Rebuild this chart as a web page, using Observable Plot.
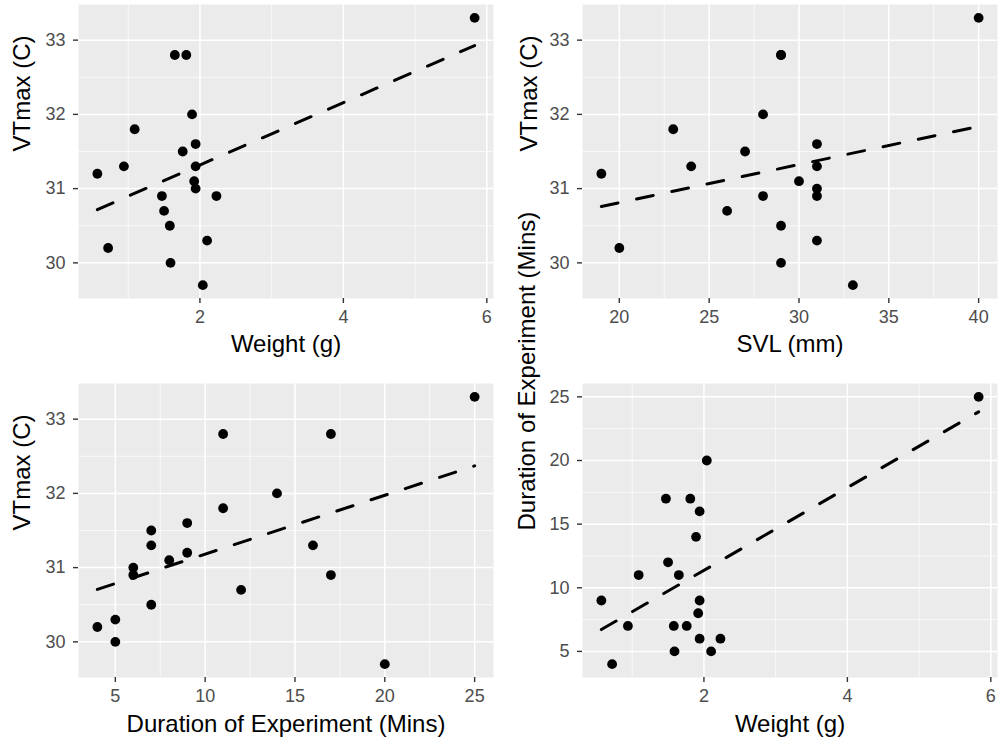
<!DOCTYPE html>
<html>
<head>
<meta charset="utf-8">
<script src="https://cdn.jsdelivr.net/npm/d3@7"></script>
<script src="https://cdn.jsdelivr.net/npm/@observablehq/plot@0.6"></script>
<style>
  html, body { margin: 0; padding: 0; background: #ffffff; }
  #wrap { position: relative; width: 999px; height: 744px; overflow: hidden; background: #ffffff; }
  .panel { position: absolute; }
</style>
</head>
<body>
<div id="wrap">
  <div class="panel" id="p1" style="left:0px; top:0px;"></div>
  <div class="panel" id="p2" style="left:500px; top:0px;"></div>
  <div class="panel" id="p3" style="left:0px; top:370px;"></div>
  <div class="panel" id="p4" style="left:500px; top:370px;"></div>
</div>
<script>
// ---- Data (one entry per individual) ----
const weight   = [5.83, 1.65, 1.81, 1.89, 1.09, 1.94, 1.76, 0.94, 1.94, 0.57, 1.92, 1.94, 1.47, 2.23, 1.50, 1.58, 0.72, 2.10, 1.59, 2.04];
const svl      = [40, 29, 29, 28, 23, 31, 27, 24, 31, 19, 30, 31, 28, 31, 26, 29, 20, 31, 29, 33];
const duration = [25, 11, 17, 14, 11, 9, 7, 7, 16, 9, 8, 6, 17, 6, 12, 7, 4, 5, 5, 20];
const vtmax    = [33.3, 32.8, 32.8, 32.0, 31.8, 31.6, 31.5, 31.3, 31.3, 31.2, 31.1, 31.0, 30.9, 30.9, 30.7, 30.5, 30.2, 30.3, 30.0, 29.7];

// ---- Axis ticks ----
const weightTicks = [2, 4, 6];
const weightMinor = [1, 3, 5];
const svlTicks = [20, 25, 30, 35, 40];
const svlMinor = [22.5, 27.5, 32.5, 37.5];
const durTicks = [5, 10, 15, 20, 25];
const durMinor = [7.5, 12.5, 17.5, 22.5];
const vtTicks = [30, 31, 32, 33];
const vtMinor = [30.5, 31.5, 32.5];

// ---- Labels ----
const labWeight = "Weight (g)";
const labSVL = "SVL (mm)";
const labDur = "Duration of Experiment (Mins)";
const labVT = "VTmax (C)";

const rows = weight.map((w, i) => ({weight: w, svl: svl[i], duration: duration[i], vtmax: vtmax[i]}));

function expand(vals) {
  const lo = d3.min(vals), hi = d3.max(vals);
  const pad = (hi - lo) * 0.05;
  return [lo - pad, hi + pad];
}

const FONT = "'Liberation Sans', Arial, Helvetica, sans-serif";
const fmt = d => String(d);

function panel(cfg) {
  const xv = rows.map(d => d[cfg.x]);
  const yv = rows.map(d => d[cfg.y]);
  return Plot.plot({
    width: cfg.width,
    height: cfg.height,
    marginLeft: cfg.ml,
    marginRight: cfg.mr,
    marginTop: cfg.mt,
    marginBottom: cfg.mb,
    style: {fontFamily: FONT, background: "transparent", overflow: "visible"},
    x: {domain: expand(xv)},
    y: {domain: expand(yv)},
    marks: [
      Plot.frame({fill: "#EBEBEB", stroke: null}),
      Plot.gridX(cfg.xMinor, {stroke: "white", strokeOpacity: 1, strokeWidth: 0.7}),
      Plot.gridY(cfg.yMinor, {stroke: "white", strokeOpacity: 1, strokeWidth: 0.7}),
      Plot.gridX(cfg.xTicks, {stroke: "white", strokeOpacity: 1, strokeWidth: 1.5}),
      Plot.gridY(cfg.yTicks, {stroke: "white", strokeOpacity: 1, strokeWidth: 1.5}),
      Plot.axisX(cfg.xTicks, {tickSize: 5, tickPadding: 7, stroke: "#333333", strokeWidth: 1.4, fill: "#4D4D4D", fontSize: 18, label: null, tickFormat: fmt}),
      Plot.axisY(cfg.yTicks, {tickSize: 5, tickPadding: 8, stroke: "#333333", strokeWidth: 1.4, fill: "#4D4D4D", fontSize: 18, label: null, tickFormat: fmt}),
      Plot.dot(rows, {x: cfg.x, y: cfg.y, r: 4.9, fill: "black", stroke: null}),
      Plot.linearRegressionY(rows, {x: cfg.x, y: cfg.y, ci: 0, stroke: "black", strokeWidth: 3, strokeDasharray: "17,19"}),
      Plot.text([cfg.xLabel], {frameAnchor: "bottom", dy: cfg.xdy, text: d => d, fontSize: 24, fill: "#000", lineAnchor: "middle"}),
      Plot.text([cfg.yLabel], {frameAnchor: "left", dx: cfg.ydx, rotate: -90, text: d => d, fontSize: 24, fill: "#000", lineAnchor: "middle"})
    ]
  });
}

const rowTop = {height: 370, mt: 4, mb: 72, xdy: 46};
const rowBot = {height: 374, mt: 13, mb: 67, xdy: 47};
const colLeft = {width: 499, ml: 78, mr: 6};
const colRight = {width: 499, ml: 82, mr: 2};

document.getElementById("p1").appendChild(panel({...rowTop, ...colLeft, x: "weight", y: "vtmax",
  xTicks: weightTicks, xMinor: weightMinor, yTicks: vtTicks, yMinor: vtMinor,
  xLabel: labWeight, yLabel: labVT, ydx: -56}));
document.getElementById("p2").appendChild(panel({...rowTop, ...colRight, x: "svl", y: "vtmax",
  xTicks: svlTicks, xMinor: svlMinor, yTicks: vtTicks, yMinor: vtMinor,
  xLabel: labSVL, yLabel: labVT, ydx: -53}));
document.getElementById("p3").appendChild(panel({...rowBot, ...colLeft, x: "duration", y: "vtmax",
  xTicks: durTicks, xMinor: durMinor, yTicks: vtTicks, yMinor: vtMinor,
  xLabel: labDur, yLabel: labVT, ydx: -56}));
document.getElementById("p4").appendChild(panel({...rowBot, ...colRight, x: "weight", y: "duration",
  xTicks: weightTicks, xMinor: weightMinor, yTicks: durTicks, yMinor: durMinor,
  xLabel: labWeight, yLabel: labDur, ydx: -55}));
</script>
</body>
</html>
